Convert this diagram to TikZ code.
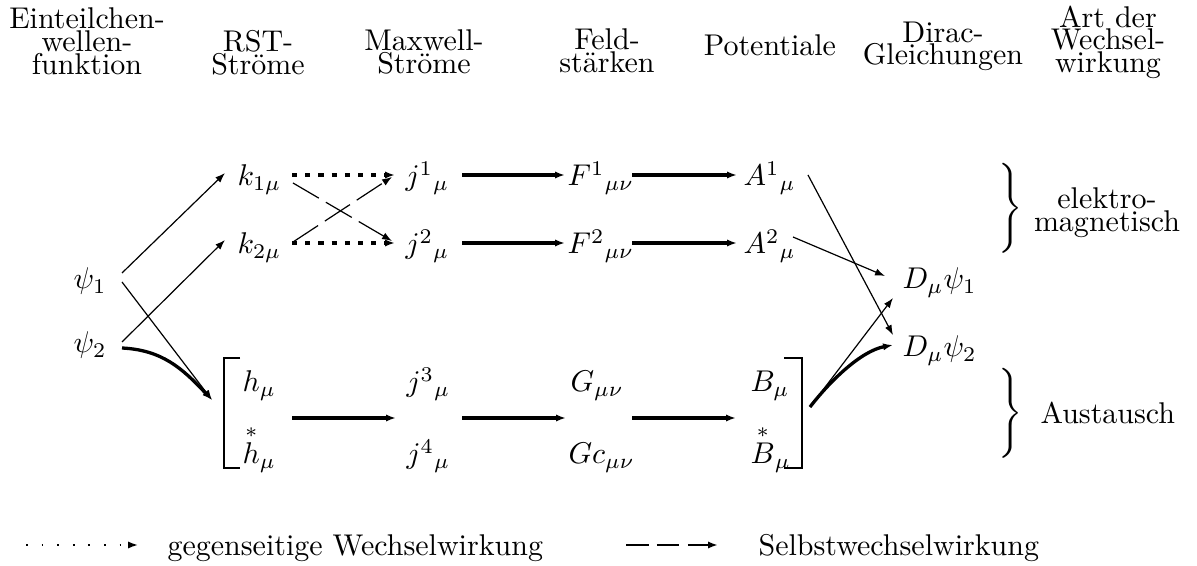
\documentclass[tikz,border=0pt]{standalone}
\usepackage{amsmath}
\usetikzlibrary{arrows.meta,calc}
\begin{document}
\begin{tikzpicture}[x=0.3333pt,y=-0.3333pt,
  head/.style={align=center,inner sep=0pt,anchor=north,font=\fontsize{10}{7.6}\selectfont},
  mth/.style={inner sep=0pt,anchor=base west},
  tipa/.style={-{Latex[length=3.3pt,width=2.4pt]}},
  thinarr/.style={line width=0.4pt,tipa},
  thickarr/.style={line width=1.1pt,tipa},
  dotarr/.style={line width=1.1pt,dash pattern=on 1.7pt off 2.7pt,tipa},
  dasharr/.style={line width=0.4pt,dash pattern=on 10pt off 2.7pt,tipa},
  legdot/.style={line width=0.6pt,dash pattern=on 0.6pt off 4.6pt,tipa},
  legdash/.style={line width=0.9pt,dash pattern=on 7.5pt off 2.8pt,tipa},
  bracketline/.style={line width=0.9pt},
  bracenode/.style={inner sep=0pt,anchor=west}
]
\useasboundingbox (0,0) rectangle (1197,566);

% column headings
\node[head] (t1) at (87,7) {Einteilchen-\\wellen-\\funktion};
\node[head] (t2) at (258,29.5) {RST-\\Ströme};
\node[head] (t3) at (424,29) {Maxwell-\\Ströme};
\node[head] (t4) at (607,28) {Feld-\\stärken};
\node[head] (t5) at (770,34) {Potentiale};
\node[head] (t6) at (943,21) {Dirac-\\Gleichungen};
\node[head] (t7) at (1108,5) {Art der\\Wechsel-\\wirkung};

% quantities
\node[mth] (psi1) at (73,289) {$\psi_1$};
\node[mth] (psi2) at (73,353) {$\psi_2$};
\node[mth] (k1) at (237,186) {$k_{1\mu}$};
\node[mth] (k2) at (237,254) {$k_{2\mu}$};
\node[mth] (j1) at (405,186) {$j^1{}_\mu$};
\node[mth] (j2) at (405,254) {$j^2{}_\mu$};
\node[mth] (F1) at (567,186) {$F^1{}_{\mu\nu}$};
\node[mth] (F2) at (567,254) {$F^2{}_{\mu\nu}$};
\node[mth] (A1) at (743,186) {$A^1{}_\mu$};
\node[mth] (A2) at (743,254) {$A^2{}_\mu$};
\node[mth] (D1) at (902,289) {$D_\mu\psi_1$};
\node[mth] (D2) at (902,357) {$D_\mu\psi_2$};
\node[mth] (hm) at (242,392) {$h_\mu$};
\node[mth] (hs) at (242,464) {$\overset{*}{h}_\mu$};
\node[mth] (j3) at (406,392) {$j^3{}_\mu$};
\node[mth] (j4) at (406,464) {$j^4{}_\mu$};
\node[mth] (G) at (570,392) {$G_{\mu\nu}$};
\node[mth] (Gc) at (568,464) {$Gc_{\mu\nu}$};
\node[mth] (B) at (750,392) {$B_\mu$};
\node[mth] (Bs) at (750,464) {$\overset{*}{B}_\mu$};

% brackets around the exchange row
\draw[bracketline] (240,358) -- (224,358) -- (224,468) -- (240,468);
\draw[bracketline] (784,358) -- (802,358) -- (802,468) -- (784,468);
\coordinate (Lb) at (212,400);
\coordinate (Rb) at (810,407);

% from wave functions
\draw[thinarr] ($(psi1.base west)+(49,-16)$) -- ($(k1.base west)+(-12,-13)$);
\draw[thinarr] ($(psi2.base west)+(49,-11)$) -- ($(k2.base west)+(-12,-14)$);
\draw[thinarr] ($(psi1.base west)+(49,-7)$) -- (Lb);
\draw[thickarr] ($(psi2.base west)+(49,-5)$) .. controls +(40,2) and +(-30,-32) .. (Lb);

% RST -> Maxwell
\draw[dotarr] ($(k1.base west)+(55,-11)$) -- ($(j1.base west)+(-10,-11)$);
\draw[dotarr] ($(k2.base west)+(55,-11)$) -- ($(j2.base west)+(-10,-11)$);
\draw[dasharr] ($(k1.base west)+(56,-3)$) -- ($(j2.base west)+(-13,-13)$);
\draw[dasharr] ($(k2.base west)+(56,-12)$) -- ($(j1.base west)+(-13,-9)$);

% Maxwell -> fields -> potentials
\draw[thickarr] ($(j1.base west)+(57,-11)$) -- ($(F1.base west)+(-2,-11)$);
\draw[thickarr] ($(j2.base west)+(57,-11)$) -- ($(F2.base west)+(-2,-11)$);
\draw[thickarr] ($(F1.base west)+(65,-11)$) -- ($(A1.base west)+(-6,-11)$);
\draw[thickarr] ($(F2.base west)+(65,-11)$) -- ($(A2.base west)+(-6,-11)$);

% exchange row
\draw[thickarr] ($(hm.base west)+(50,26)$) -- ($(j3.base west)+(-10,26)$);
\draw[thickarr] ($(j3.base west)+(56,26)$) -- ($(G.base west)+(-4,26)$);
\draw[thickarr] ($(G.base west)+(62,26)$) -- ($(B.base west)+(-14,26)$);

% potentials -> Dirac equations
\draw[thinarr] ($(A1.base west)+(65,-11)$) -- ($(D2.base west)+(-9,-22)$);
\draw[thinarr] ($(A2.base west)+(50,-17)$) -- ($(D1.base west)+(-17,-13)$);
\draw[thinarr] (Rb) -- ($(D1.base west)+(-9,9)$);
\draw[thickarr] (Rb) .. controls +(20,-26) and +(-32,6) .. ($(D2.base west)+(-9,-12)$);

% braces and kinds of interaction
\node[bracenode] (br1) at (994,208) {$\left.\vrule height 18.5pt depth 13.5pt width 0pt\right\}$};
\node[bracenode] (br2) at (994,413) {$\left.\vrule height 18.5pt depth 13.5pt width 0pt\right\}$};
\node[head] (em) at (1107,187) {elektro-\\magnetisch};
\node[mth] (aus) at (1040,424) {Austausch};

% legend
\coordinate (la1) at (26,545);
\coordinate (la2) at (138,545);
\draw[legdot] (la1) -- (la2);
\node[mth] (lt1) at (167,556) {gegenseitige Wechselwirkung};
\coordinate (lb1) at (626,545);
\coordinate (lb2) at (718,545);
\draw[legdash] (lb1) -- (lb2);
\node[mth] (lt2) at (758,556) {Selbstwechselwirkung};
\end{tikzpicture}
\end{document}
